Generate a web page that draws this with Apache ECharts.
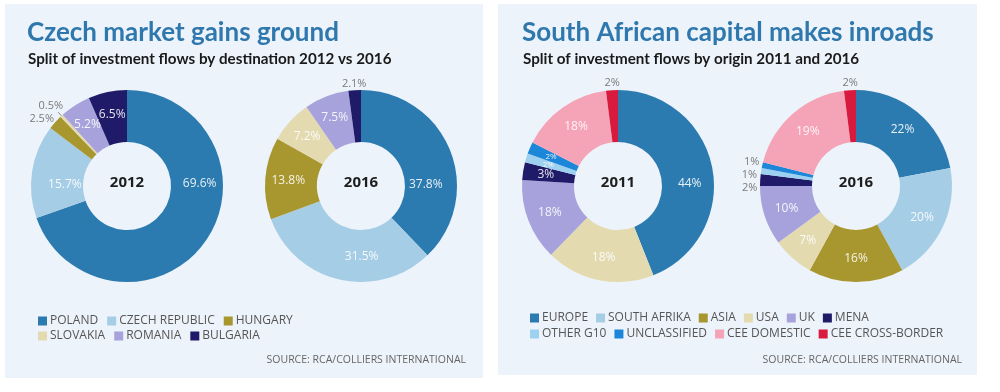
<!DOCTYPE html>
<html><head><meta charset="utf-8">
<script src="https://cdn.jsdelivr.net/npm/echarts@6/dist/echarts.min.js"></script>
<style>html,body{margin:0;padding:0;background:#fff}#c{width:1000px;height:392px}</style>
</head><body><div id="c"></div>
<script>
// ---- data ----
const titleLeft = 'Czech market gains ground';
const subLeft = 'Split of investment flows by destination 2012 vs 2016';
const titleRight = 'South African capital makes inroads';
const subRight = 'Split of investment flows by origin 2011 and 2016';
const source = 'SOURCE: RCA/COLLIERS INTERNATIONAL';

const catsLeft = ['POLAND', 'CZECH REPUBLIC', 'HUNGARY', 'SLOVAKIA', 'ROMANIA', 'BULGARIA'];
const vals2012 = [69.6, 15.7, 2.5, 0.5, 5.2, 6.5];
const vals2016L = [37.8, 31.5, 13.8, 7.2, 7.5, 2.1];

const catsRight = ['EUROPE', 'SOUTH AFRIKA', 'ASIA', 'USA', 'UK', 'MENA', 'OTHER G10', 'UNCLASSIFIED', 'CEE DOMESTIC', 'CEE CROSS-BORDER'];
// 2011 slice shares as drawn; printed labels differ (they sum to 107%)
const vals2011 = [44, 0, 0, 18.3, 13.7, 3, 1.5, 2, 15.5, 2];
const labels2011 = ['44%', '', '', '18%', '18%', '3%', '2%', '2%', '18%', '2%'];
const vals2016R = [22, 20, 16, 7, 10, 2, 1, 1, 19, 2];

const yearsLeft = ['2012', '2016'];
const yearsRight = ['2011', '2016'];

// ---- styles ----
const palette = {
  'POLAND': '#2c7bb0', 'CZECH REPUBLIC': '#a6cde6', 'HUNGARY': '#a8962f',
  'SLOVAKIA': '#e3dab0', 'ROMANIA': '#a7a2dc', 'BULGARIA': '#1f1b68',
  'EUROPE': '#2c7bb0', 'SOUTH AFRIKA': '#a6cde6', 'ASIA': '#a8962f',
  'USA': '#e3dab0', 'UK': '#a7a2dc', 'MENA': '#1f1b68',
  'OTHER G10': '#9ed0f0', 'UNCLASSIFIED': '#1c86d8', 'CEE DOMESTIC': '#f5a3b6',
  'CEE CROSS-BORDER': '#d71a3d'
};
const FONT = 'Open Sans';
const R = [44, 96];
const CY = 186;
const centers = [[127, CY], [361, CY], [618, CY], [856, CY]];

function pie(center, names, values, labels, outside, small, offsets) {
  const data = [];
  names.forEach((n, i) => {
    if (!values[i]) return;
    const item = {
      name: n, value: values[i],
      itemStyle: { color: palette[n] },
      label: { formatter: labels ? labels[i] : (values[i] + '%') }
    };
    if (outside && outside[i]) {
      item.label.position = 'outside';
      item.label.color = '#7a7a7a';
      item.label.fontSize = 11;
      item.labelLine = outside[i];
    }
    if (small && small.includes(i)) {
      item.label.fontSize = 8;
    }
    if (offsets && offsets[i]) {
      item.label.offset = offsets[i];
    }
    data.push(item);
  });
  return {
    type: 'pie', center: center, radius: R, startAngle: 90, clockwise: true,
    avoidLabelOverlap: true, silent: true,
    label: { show: true, position: 'inside', color: 'rgba(255,255,255,0.88)', fontSize: 12, fontFamily: FONT },
    labelLine: { show: false, length: 4, length2: 2 },
    labelLayout: { hideOverlap: false },
    emphasis: { disabled: true },
    data: data
  };
}

const chart = echarts.init(document.getElementById('c'), null, { renderer: 'canvas' });

const legendBase = {
  icon: 'rect', itemWidth: 9, itemHeight: 9, itemGap: 9, selectedMode: false,
  textStyle: { color: '#555', fontSize: 12, fontFamily: FONT, padding: [0, 0, 0, -2] },
  padding: 0
};
const hidden = { show: false, length: 3, length2: 0 };

const option = {
  animation: false,
  backgroundColor: '#fff',
  title: [
    { text: titleLeft, left: 27, top: 20, padding: 0, textStyle: { color: '#2f78ad', fontSize: 26, fontWeight: 'bold', fontFamily: 'Lato' } },
    { text: subLeft, left: 28, top: 52, padding: 0, textStyle: { color: '#1a1a1a', fontSize: 15.2, fontWeight: 'bold', fontFamily: 'Lato' } },
    { text: titleRight, left: 522, top: 20, padding: 0, textStyle: { color: '#2f78ad', fontSize: 26, fontWeight: 'bold', fontFamily: 'Lato' } },
    { text: subRight, left: 523, top: 52, padding: 0, textStyle: { color: '#1a1a1a', fontSize: 15.2, fontWeight: 'bold', fontFamily: 'Lato' } },
    { text: source, right: 1000 - 466, top: 355, padding: 0, textStyle: { color: '#666', fontSize: 10.5, fontWeight: 'normal', fontFamily: FONT } },
    { text: source, right: 1000 - 962, top: 355, padding: 0, textStyle: { color: '#666', fontSize: 10.5, fontWeight: 'normal', fontFamily: FONT } }
  ],
  legend: [
    Object.assign({}, legendBase, { left: 38, top: 315, data: catsLeft.slice(0, 3) }),
    Object.assign({}, legendBase, { left: 38, top: 330, data: catsLeft.slice(3) }),
    Object.assign({}, legendBase, { left: 530, top: 312, itemGap: 8, data: catsRight.slice(0, 6) }),
    Object.assign({}, legendBase, { left: 530, top: 328, itemGap: 8, data: catsRight.slice(6) })
  ],
  graphic: [
    { type: 'rect', z: -10, shape: { x: 5, y: 4, width: 478, height: 374 }, style: { fill: '#edf3fa' } },
    { type: 'rect', z: -10, shape: { x: 498, y: 4, width: 479, height: 371 }, style: { fill: '#edf3fa' } }
  ].concat([yearsLeft[0], yearsLeft[1], yearsRight[0], yearsRight[1]].map((t, i) => ({
    type: 'text', z: 10, x: centers[i][0], y: centers[i][1] - 3,
    style: { text: t, fill: '#1e1e1e', font: 'bold 15px "Open Sans"', textAlign: 'center', textVerticalAlign: 'middle' }
  }))),
  series: [
    pie(centers[0], catsLeft, vals2012, null,
      { 2: { show: false, length: 8, length2: 4 }, 3: { show: true, length: 5, length2: 0, lineStyle: { color: '#888', width: 1 } } },
      null, { 0: [13, -45], 1: [10, 10], 2: [15, -3], 3: [10, -6] }),
    pie(centers[1], catsLeft, vals2016L, null,
      { 5: hidden }, null, { 0: [-3, 26], 1: [17, -1], 5: [17, -3] }),
    pie(centers[2], catsRight, vals2011, labels2011,
      { 9: hidden }, [6, 7], { 0: [0, 11], 9: [13, -4] }),
    pie(centers[3], catsRight, vals2016R, null,
      { 5: hidden, 6: hidden, 7: hidden, 9: hidden }, null,
      { 5: [0, -7], 6: [0, -6], 7: [0, -3], 9: [13, -4] })
  ]
};
chart.setOption(option);
</script></body></html>
